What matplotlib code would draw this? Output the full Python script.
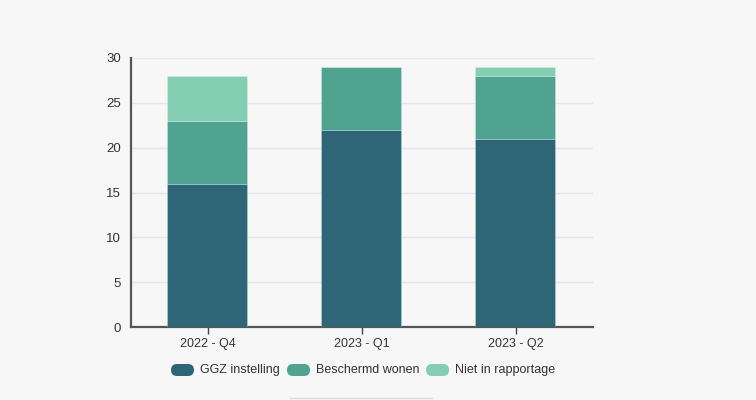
import matplotlib
matplotlib.use('Agg')
import matplotlib.pyplot as plt
from matplotlib.patches import FancyBboxPatch
from matplotlib.lines import Line2D
import numpy as np

categories = ['2022 - Q4', '2023 - Q1', '2023 - Q2']
ggz = [16, 22, 21]
beschermd = [7, 7, 7]
niet = [5, 0, 1]
series_names = ['GGZ instelling', 'Beschermd wonen', 'Niet in rapportage']
colors = ['#2e6677', '#4fa390', '#84cfb4']

plt.rcParams['font.family'] = ['Liberation Sans', 'DejaVu Sans']

fig = plt.figure(figsize=(7.56, 4.0), dpi=100)
fig.patch.set_facecolor('#f7f7f7')
ax = fig.add_axes([131/756, 1 - 327/400, 462/756, (327 - 58)/400])
ax.set_facecolor('#f7f7f7')

x = np.arange(len(categories))
bottom = np.zeros(len(categories))
for vals, col in zip([ggz, beschermd, niet], colors):
    ax.bar(x - 0.005, vals, width=0.52, bottom=bottom, color=col,
           edgecolor=(1, 1, 1, 0.25), linewidth=0.6, zorder=3)
    bottom = bottom + np.array(vals)

ax.set_xlim(-0.5, 2.5)
ax.set_ylim(0, 30)
ax.set_yticks(range(0, 31, 5))
ax.yaxis.grid(True, color='#e4e4f2', linewidth=1, zorder=0)
ax.set_axisbelow(True)
ax.set_xticks(x)
ax.set_xticklabels(categories)
ax.tick_params(axis='x', length=5, width=1, color='#444444', labelsize=9,
               labelcolor='#333333', pad=3)
ax.tick_params(axis='y', length=0, labelsize=9.5, labelcolor='#333333', pad=7)
for s in ['top', 'right']:
    ax.spines[s].set_visible(False)
for s in ['left', 'bottom']:
    ax.spines[s].set_color('#555555')
    ax.spines[s].set_linewidth(1.6)

# legend with rounded swatches
leg_x = [171, 287, 426]
leg_y = 370
for lx, name, col in zip(leg_x, series_names, colors):
    box = FancyBboxPatch((lx / 756, (400 - leg_y - 6) / 400), 23 / 756, 12 / 400,
                         boxstyle='round,pad=0,rounding_size=0.008',
                         transform=fig.transFigure, facecolor=col,
                         edgecolor='none', mutation_aspect=756/400)
    fig.add_artist(box)
    fig.text((lx + 29) / 756, (400 - leg_y) / 400, name, fontsize=9,
             color='#333333', va='center', ha='left')

fig.add_artist(Line2D([290/756, 432/756], [2/400, 2/400], transform=fig.transFigure,
                      color='#dddddd', linewidth=1))

fig.savefig('out.png', dpi=100, facecolor=fig.get_facecolor())
